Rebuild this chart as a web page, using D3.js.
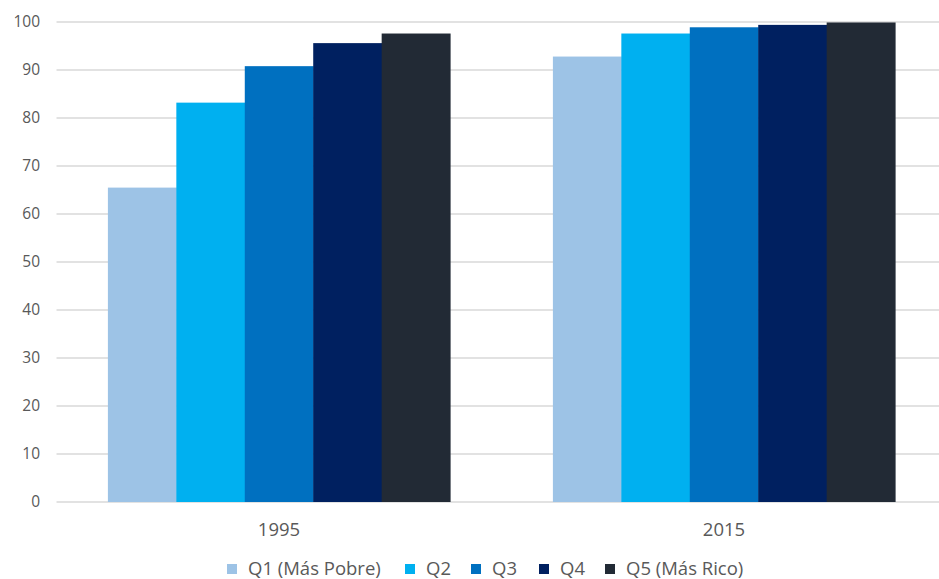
<!DOCTYPE html>
<html><head><meta charset="utf-8">
<script src="https://cdn.jsdelivr.net/npm/d3@7"></script>
<style>body{margin:0;background:#fff;} text{font-family:"Open Sans",sans-serif;}</style>
</head><body><svg id="c" width="939" height="579"></svg>
<script>
const years = ["1995", "2015"];
const series = ["Q1 (Más Pobre)", "Q2", "Q3", "Q4", "Q5 (Más Rico)"];
const q1 = [65.5, 92.8];
const q2 = [83.2, 97.6];
const q3 = [90.8, 98.9];
const q4 = [95.6, 99.4];
const q5 = [97.6, 99.9];
const yTicks = [0, 10, 20, 30, 40, 50, 60, 70, 80, 90, 100];
const colors = ["#9dc3e6", "#00b0f0", "#0070c0", "#002060", "#222a35"];

(function () {
const values = [q1, q2, q3, q4, q5];
const svg = d3.select("#c");
const left = 56.5, right = 946.5, topY = 22, bottomY = 502;
const y = d3.scaleLinear().domain([0, 100]).range([bottomY, topY]);
const x0 = d3.scaleBand().domain(years).range([left, right]).paddingInner(0.231).paddingOuter(0.1155);
const x1 = d3.scaleBand().domain(series).range([0, x0.bandwidth()]);

// grid
svg.append("g").selectAll("line").data(yTicks).join("line")
  .attr("x1", left).attr("x2", 939).attr("y1", d => y(d)).attr("y2", d => y(d))
  .attr("stroke", "#d9d9d9").attr("stroke-width", 1.3);

// y labels
const yAxis = d3.axisLeft(y).tickValues(yTicks).tickSize(0).tickPadding(0);
const ga = svg.append("g").attr("transform", `translate(${40},0)`).call(yAxis);
ga.select(".domain").remove();
ga.selectAll("text").attr("font-size", 15.5).attr("fill", "#595959").attr("font-family", "Open Sans");

// bars
const groups = svg.append("g").selectAll("g").data(years).join("g")
  .attr("transform", d => `translate(${x0(d)},0)`);
groups.selectAll("rect").data((d, i) => series.map((s, k) => ({s, v: values[k][i], k})))
  .join("rect")
  .attr("x", d => x1(d.s)).attr("width", x1.bandwidth() + 0.5)
  .attr("y", d => y(d.v)).attr("height", d => y(0) - y(d.v))
  .attr("fill", d => colors[d.k]);

// x labels
const xAxis = d3.axisBottom(x0).tickSize(0).tickPadding(0);
const gx = svg.append("g").attr("transform", `translate(0,${529.5})`).call(xAxis);
gx.select(".domain").remove();
gx.selectAll("text").attr("font-size", 18.5).attr("fill", "#595959").attr("font-family", "Open Sans").attr("dy", "0.35em");

// legend
const legX = [227, 405, 471, 539, 605];
const lg = svg.append("g").selectAll("g").data(series).join("g")
  .attr("transform", (d, i) => `translate(${legX[i]},569)`);
lg.append("rect").attr("x", 0).attr("y", -5).attr("width", 10).attr("height", 10).attr("fill", (d, i) => colors[i]);
lg.append("text").attr("x", 21).attr("y", 0).attr("dy", "0.35em").attr("font-size", 18.5).attr("fill", "#595959").text(d => d);
})();
</script></body></html>
